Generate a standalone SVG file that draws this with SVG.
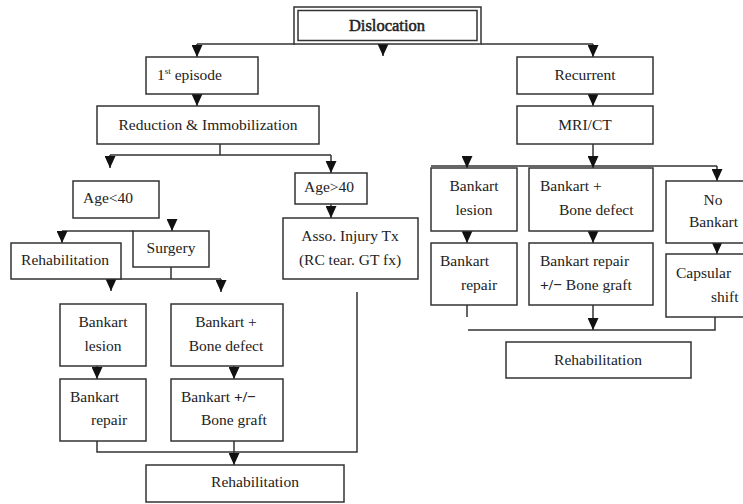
<svg xmlns="http://www.w3.org/2000/svg" width="743" height="504" viewBox="0 0 743 504">
<defs>
<marker id="ah" markerUnits="userSpaceOnUse" markerWidth="12" markerHeight="11" refX="12" refY="5.5" orient="auto">
<path d="M0,0 L12,5.5 L0,11 z" fill="#111"/>
</marker>
<style>
.box{fill:#fff;stroke:#333;stroke-width:1.5}
.ln{fill:none;stroke:#333;stroke-width:1.5}
.ar{fill:none;stroke:#333;stroke-width:1.5;marker-end:url(#ah)}
text{font-family:"Liberation Serif","Times New Roman",serif;font-size:15.5px;fill:#222}
.c{text-anchor:middle}
.title{font-size:16.5px;font-weight:normal;stroke:#222;stroke-width:0.5}
</style>
</defs>
<rect width="743" height="504" fill="#fff"/>
<g id="connectors">
<path class="ln" d="M197,44 H295 M481,44 H593"/>
<path class="ar" d="M197,44 V57"/>
<path class="ar" d="M383,45 V56"/>
<path class="ar" d="M593,44 V57"/>
<path class="ar" d="M197,94 V106"/>
<path class="ar" d="M593,94 V106"/>
<path class="ln" d="M220,144 V155 M110,155 H331"/>
<path class="ar" d="M110,155 V168"/>
<path class="ar" d="M331,155 V173"/>
<path class="ar" d="M331,204 V218"/>
<path class="ar" d="M172,219 V231"/>
<path class="ln" d="M62,231 H133"/>
<path class="ar" d="M62,231 V243"/>
<path class="ln" d="M171,267 V279 M110,279 H221"/>
<path class="ar" d="M111,279 V291"/>
<path class="ar" d="M221,279 V292"/>
<path class="ar" d="M97,366 V379"/>
<path class="ar" d="M234,366 V379"/>
<path class="ln" d="M97,441 V452 H357 V292"/>
<path class="ar" d="M234,441 V465"/>
<path class="ln" d="M431,166 H717"/>
<path class="ar" d="M593,144 V168"/>
<path class="ar" d="M467,157 V168"/>
<path class="ar" d="M717,166 V181"/>
<path class="ar" d="M467,231 V243"/>
<path class="ar" d="M593,231 V243"/>
<path class="ar" d="M717,243 V254"/>
<path class="ln" d="M467,305 V317 M468,330 H715 V317"/>
<path class="ar" d="M593,305 V330"/>
</g>
<g id="dislocation">
<rect class="box" x="294" y="7" width="187" height="37" stroke-width="2"/>
<rect class="box" x="298" y="10.5" width="179" height="30" stroke-width="1"/>
<text class="c title" x="387" y="31">Dislocation</text>
</g>
<g id="first-episode">
<rect class="box" x="146" y="57" width="112" height="37"/>
<text x="157" y="80">1<tspan font-size="9" dy="-6">st</tspan><tspan dy="6"> episode</tspan></text>
</g>
<g id="reduction">
<rect class="box" x="97" y="106" width="222" height="38"/>
<text class="c" x="208" y="130">Reduction &amp; Immobilization</text>
</g>
<g id="age-lt-40">
<rect class="box" x="73" y="181" width="86" height="37"/>
<text x="83" y="203">Age&lt;40</text>
</g>
<g id="age-gt-40">
<rect class="box" x="295" y="173" width="72" height="31"/>
<text x="304" y="192">Age&gt;40</text>
</g>
<g id="asso-injury">
<rect class="box" x="283" y="218" width="135" height="61"/>
<text class="c" x="350" y="241">Asso. Injury Tx</text>
<text class="c" x="350" y="265">(RC tear. GT fx)</text>
</g>
<g id="surgery">
<rect class="box" x="133" y="231" width="76" height="36"/>
<text class="c" x="171" y="253">Surgery</text>
</g>
<g id="rehab-left">
<rect class="box" x="11" y="243" width="110" height="36"/>
<text class="c" x="65" y="265">Rehabilitation</text>
</g>
<g id="bankart-lesion-l">
<rect class="box" x="60" y="304" width="86" height="62"/>
<text class="c" x="103" y="327">Bankart</text>
<text class="c" x="103" y="351">lesion</text>
</g>
<g id="bankart-bone-l">
<rect class="box" x="171" y="304" width="112" height="62"/>
<text class="c" x="226" y="327">Bankart +</text>
<text class="c" x="226" y="351">Bone defect</text>
</g>
<g id="bankart-repair-l">
<rect class="box" x="60" y="379" width="86" height="62"/>
<text x="70" y="402">Bankart</text>
<text x="91" y="425">repair</text>
</g>
<g id="bankart-graft-l">
<rect class="box" x="171" y="379" width="112" height="62"/>
<text x="181" y="402">Bankart <tspan font-weight="bold">+/−</tspan></text>
<text x="201" y="425">Bone graft</text>
</g>
<g id="rehab-bottom">
<rect class="box" x="146" y="465" width="198" height="37"/>
<text class="c" x="255" y="487">Rehabilitation</text>
</g>
<g id="recurrent">
<rect class="box" x="517" y="57" width="136" height="37"/>
<text class="c" x="585" y="80">Recurrent</text>
</g>
<g id="mri-ct">
<rect class="box" x="517" y="106" width="136" height="38"/>
<text class="c" x="585" y="130">MRI/CT</text>
</g>
<g id="bankart-lesion-r">
<rect class="box" x="431" y="168" width="86" height="63"/>
<text class="c" x="474" y="191">Bankart</text>
<text class="c" x="474" y="215">lesion</text>
</g>
<g id="bankart-bone-r">
<rect class="box" x="529" y="168" width="124" height="63"/>
<text x="540" y="191">Bankart +</text>
<text x="559" y="215">Bone defect</text>
</g>
<g id="no-bankart">
<rect class="box" x="666" y="181" width="82" height="62"/>
<text class="c" x="713" y="205">No</text>
<text x="689" y="227">Bankart</text>
</g>
<g id="bankart-repair-r">
<rect class="box" x="431" y="243" width="86" height="62"/>
<text x="440" y="266">Bankart</text>
<text x="461" y="290">repair</text>
</g>
<g id="bankart-graft-r">
<rect class="box" x="529" y="243" width="124" height="62"/>
<text x="540" y="266">Bankart repair</text>
<text x="540" y="290"><tspan font-weight="bold">+/−</tspan> Bone graft</text>
</g>
<g id="capsular-shift">
<rect class="box" x="666" y="254" width="82" height="63"/>
<text x="676" y="278">Capsular</text>
<text x="711" y="302">shift</text>
</g>
<g id="rehab-right">
<rect class="box" x="506" y="342" width="185" height="36"/>
<text class="c" x="598" y="365">Rehabilitation</text>
</g>
</svg>
